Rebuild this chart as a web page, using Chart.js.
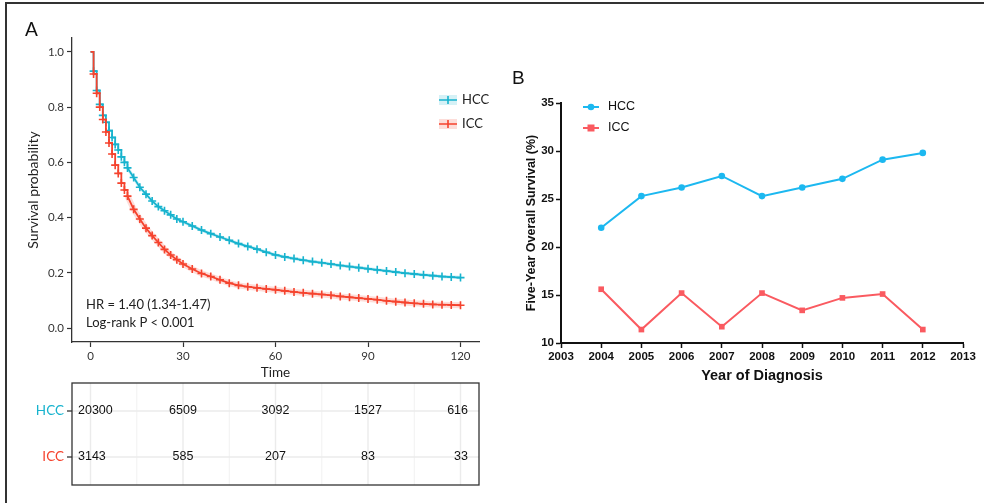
<!DOCTYPE html>
<html>
<head>
<meta charset="utf-8">
<script src="https://cdn.jsdelivr.net/npm/chart.js@4.4.1/dist/chart.umd.min.js"></script>
<style>
  html, body { margin: 0; padding: 0; background: #fff; }
  #wrap { position: relative; width: 984px; height: 503px; overflow: hidden; }
  #frame { position: absolute; left: 5px; top: 2px; width: 1000px; height: 540px;
           border-left: 2px solid #333; border-top: 2px solid #333; }
  #boxA { position: absolute; left: 0; top: 0; width: 490px; height: 503px; }
  #boxB { position: absolute; left: 490px; top: 0; width: 494px; height: 503px; }
</style>
</head>
<body>
<div id="wrap">
  <div id="frame"></div>
  <div id="boxA"><canvas id="kmChart"></canvas></div>
  <div id="boxB"><canvas id="trendChart"></canvas></div>
</div>
<script>
// ---- Panel A: Kaplan-Meier (months) ----
const kmTimes = [0, 1, 2, 3, 4, 5, 6, 7, 8, 9, 10, 11, 12,
  14, 16, 18, 20, 22, 24, 26, 28, 30,
  33, 36, 39, 42, 45, 48, 51, 54, 57, 60, 63, 66, 69, 72, 75, 78, 81, 84, 87, 90,
  93, 96, 99, 102, 105, 108, 111, 114, 117, 120];
const hccSurv = [1.0, 0.93, 0.86, 0.81, 0.77, 0.745, 0.715, 0.69, 0.665, 0.645, 0.62, 0.60, 0.58,
  0.545, 0.51, 0.485, 0.46, 0.44, 0.425, 0.41, 0.395, 0.385,
  0.37, 0.355, 0.342, 0.33, 0.318, 0.306, 0.296, 0.286, 0.275, 0.265,
  0.258, 0.252, 0.246, 0.241, 0.237, 0.232, 0.227, 0.223, 0.219, 0.215,
  0.211, 0.207, 0.203, 0.199, 0.196, 0.193, 0.19, 0.187, 0.185, 0.183];
const iccSurv = [1.0, 0.92, 0.85, 0.80, 0.755, 0.71, 0.67, 0.63, 0.59, 0.56, 0.525, 0.50, 0.478,
  0.43, 0.395, 0.362, 0.335, 0.31, 0.285, 0.265, 0.248, 0.232,
  0.214, 0.198, 0.187, 0.175, 0.163, 0.155, 0.15, 0.146, 0.142, 0.139,
  0.135, 0.131, 0.128, 0.125, 0.122, 0.119, 0.115, 0.112, 0.109, 0.106,
  0.103, 0.099, 0.096, 0.093, 0.09, 0.088, 0.086, 0.085, 0.084, 0.083];
const stepUntil = 12; // monthly steps are visible up to here, beyond it the curve reads smooth
const timeTicks = [0, 30, 60, 90, 120];
const probTicks = [0, 0.2, 0.4, 0.6, 0.8, 1.0];
const riskGroups = ['HCC', 'ICC'];
const hccRisk = [20300, 6509, 3092, 1527, 616];
const iccRisk = [3143, 585, 207, 83, 33];

// ---- Panel B: five-year OS by year ----
const years = [2004, 2005, 2006, 2007, 2008, 2009, 2010, 2011, 2012];
const hccFive = [22.0, 25.3, 26.2, 27.4, 25.3, 26.2, 27.1, 29.1, 29.8];
const iccFive = [15.6, 11.4, 15.2, 11.7, 15.2, 13.4, 14.7, 15.1, 11.4];

const colors = {
  hccA: '#17B3CE', iccA: '#F5432E',
  hccBand: 'rgba(23,179,206,0.18)', iccBand: 'rgba(245,67,46,0.18)',
  hccB: '#1CB8F0', iccB: '#FA5A60',
  ink: '#222'
};

function pts(xs, ys) { return xs.map((x, i) => ({ x: x, y: ys[i] })); }

// text, legend and risk table for panel A
const kmExtras = {
  id: 'kmExtras',
  afterDraw(chart) {
    const ctx = chart.ctx;
    const xs = chart.scales.x;
    const area = chart.chartArea;
    ctx.save();
    ctx.fillStyle = '#111';
    ctx.textBaseline = 'middle';
    ctx.font = '19px Lato';
    ctx.textAlign = 'left';
    ctx.fillText('A', 25, 30);

    ctx.font = '13px Lato';
    ctx.fillStyle = colors.ink;
    ctx.fillText('HR = 1.40 (1.34-1.47)', 86, 305);
    ctx.fillText('Log-rank P < 0.001', 86, 323);
    ctx.textAlign = 'center';
    ctx.font = '13.5px Lato';
    ctx.fillText('Time', (area.left + area.right) / 2, 373);

    ctx.save();
    ctx.translate(33, (area.top + area.bottom) / 2);
    ctx.rotate(-Math.PI / 2);
    ctx.font = '14px Lato';
    ctx.fillText('Survival probability', 0, 0);
    ctx.restore();

    // legend
    const leg = [[colors.hccA, colors.hccBand, 'HCC', 100], [colors.iccA, colors.iccBand, 'ICC', 124]];
    leg.forEach(([c, b, label, y]) => {
      ctx.fillStyle = b;
      ctx.fillRect(439, y - 5, 18, 10);
      ctx.strokeStyle = c;
      ctx.lineWidth = 1.6;
      ctx.beginPath();
      ctx.moveTo(439, y); ctx.lineTo(457, y);
      ctx.moveTo(448, y - 4); ctx.lineTo(448, y + 4);
      ctx.stroke();
      ctx.fillStyle = colors.ink;
      ctx.textAlign = 'left';
      ctx.font = '13px Lato';
      ctx.fillText(label, 462, y);
    });

    // risk table
    const top = 383, bot = 485, rowY = [411, 457];
    ctx.strokeStyle = '#ebebeb';
    [15, 45, 75, 105].forEach(t => {
      ctx.lineWidth = 0.7;
      const x = xs.getPixelForValue(t);
      ctx.beginPath(); ctx.moveTo(x, top); ctx.lineTo(x, bot); ctx.stroke();
    });
    ctx.lineWidth = 1.4;
    timeTicks.forEach(t => {
      const x = xs.getPixelForValue(t);
      ctx.beginPath(); ctx.moveTo(x, top); ctx.lineTo(x, bot); ctx.stroke();
    });
    rowY.forEach(y => {
      ctx.beginPath(); ctx.moveTo(area.left, y); ctx.lineTo(area.right, y); ctx.stroke();
    });
    ctx.strokeStyle = '#333';
    ctx.lineWidth = 1.3;
    ctx.strokeRect(area.left, top, area.right - area.left, bot - top);
    ctx.font = '12.5px "Liberation Sans", Arial';
    ctx.fillStyle = '#111';
    const last = timeTicks.length - 1;
    [hccRisk, iccRisk].forEach((row, r) => {
      row.forEach((n, i) => {
        // first and last columns are pulled inside the table box
        let x = xs.getPixelForValue(timeTicks[i]);
        if (i === 0) { ctx.textAlign = 'left'; x = area.left + 6; }
        else if (i === last) { ctx.textAlign = 'right'; x = area.right - 11; }
        else ctx.textAlign = 'center';
        ctx.fillText(String(n), x, rowY[r]);
      });
    });
    ctx.font = '13.5px Lato';
    ctx.textAlign = 'right';
    riskGroups.forEach((g, r) => {
      ctx.fillStyle = r === 0 ? colors.hccA : colors.iccA;
      ctx.fillText(g, 64, rowY[r]);
      ctx.strokeStyle = '#333';
      ctx.beginPath(); ctx.moveTo(67, rowY[r]); ctx.lineTo(area.left, rowY[r]); ctx.stroke();
    });
    ctx.restore();
  }
};

const kmLine = (data, color, stepped) => ({
  data: data,
  stepped: stepped ? 'before' : false,
  borderColor: color,
  borderWidth: 1.8,
  pointStyle: 'cross',
  pointRadius: c => (c.dataIndex === 0 ? 0 : 4),
  pointBorderWidth: 1.6,
  pointBorderColor: color,
  fill: false
});
const kmBand = (data, color, w) => ({
  data: data,
  borderColor: color,
  borderWidth: w,
  pointRadius: 0,
  fill: false
});

const hccPts = pts(kmTimes, hccSurv);
const iccPts = pts(kmTimes, iccSurv);
const cut = kmTimes.indexOf(stepUntil);

new Chart(document.getElementById('kmChart'), {
  type: 'line',
  data: {
    datasets: [
      kmLine(iccPts.slice(0, cut + 1), colors.iccA, true),
      kmLine(iccPts.slice(cut), colors.iccA, false),
      kmLine(hccPts.slice(0, cut + 1), colors.hccA, true),
      kmLine(hccPts.slice(cut), colors.hccA, false),
      kmBand(iccPts.slice(cut), colors.iccBand, 6),
      kmBand(hccPts.slice(cut), colors.hccBand, 3.5)
    ]
  },
  options: {
    responsive: true,
    maintainAspectRatio: false,
    animation: false,
    layout: { padding: { left: 30, right: 11, top: 38, bottom: 139 } },
    plugins: { legend: { display: false }, tooltip: { enabled: false } },
    scales: {
      x: {
        type: 'linear', min: -6, max: 126,
        afterBuildTicks: s => { s.ticks = timeTicks.map(v => ({ value: v })); },
        afterFit: s => { s.height = 22; },
        border: { color: '#333', width: 1.3 },
        grid: { drawOnChartArea: false, tickLength: 5, color: '#333', tickWidth: 1.2 },
        ticks: { color: '#333', font: { family: 'Lato', size: 11.5 }, padding: 2, maxRotation: 0 }
      },
      y: {
        type: 'linear', min: -0.05, max: 1.05,
        afterBuildTicks: s => { s.ticks = probTicks.map(v => ({ value: v })); },
        afterFit: s => { s.width = 42; },
        border: { color: '#333', width: 1.3 },
        grid: { drawOnChartArea: false, tickLength: 5, color: '#333', tickWidth: 1.2 },
        ticks: { color: '#333', font: { family: 'Lato', size: 11.5 }, padding: 3,
                 callback: v => v.toFixed(1) }
      }
    }
  },
  plugins: [kmExtras]
});

// ---- Panel B ----
const trendExtras = {
  id: 'trendExtras',
  afterDraw(chart) {
    const ctx = chart.ctx;
    const area = chart.chartArea;
    ctx.save();
    ctx.textBaseline = 'middle';
    ctx.fillStyle = '#111';
    ctx.font = '19px "Liberation Sans", Arial';
    ctx.textAlign = 'left';
    ctx.fillText('B', 22, 79);

    ctx.font = 'bold 14.5px "Liberation Sans", Arial';
    ctx.textAlign = 'center';
    ctx.fillText('Year of Diagnosis', (area.left + area.right) / 2, 376);
    ctx.save();
    ctx.translate(42, (area.top + area.bottom) / 2);
    ctx.rotate(-Math.PI / 2);
    ctx.font = 'bold 12.5px "Liberation Sans", Arial';
    ctx.fillText('Five-Year Overall Survival (%)', 0, 0);
    ctx.restore();

    const leg = [[colors.hccB, 'circle', 'HCC', 107], [colors.iccB, 'rect', 'ICC', 128]];
    leg.forEach(([c, shape, label, y]) => {
      ctx.strokeStyle = c;
      ctx.fillStyle = c;
      ctx.lineWidth = 2;
      ctx.beginPath(); ctx.moveTo(93, y); ctx.lineTo(109, y); ctx.stroke();
      ctx.beginPath();
      if (shape === 'circle') ctx.arc(101, y, 3.3, 0, Math.PI * 2);
      else ctx.rect(97.5, y - 3.5, 7, 7);
      ctx.fill();
      ctx.fillStyle = '#111';
      ctx.font = '12.5px "Liberation Sans", Arial';
      ctx.textAlign = 'left';
      ctx.fillText(label, 118, y);
    });
    ctx.restore();
  }
};

new Chart(document.getElementById('trendChart'), {
  type: 'line',
  data: {
    datasets: [
      { data: pts(years, hccFive), borderColor: colors.hccB, backgroundColor: colors.hccB,
        borderWidth: 2, pointStyle: 'circle', pointRadius: 3.3, pointBorderWidth: 0 },
      { data: pts(years, iccFive), borderColor: colors.iccB, backgroundColor: colors.iccB,
        borderWidth: 2, pointStyle: 'rect', pointRadius: 4, pointBorderWidth: 0 }
    ]
  },
  options: {
    responsive: true,
    maintainAspectRatio: false,
    animation: false,
    layout: { padding: { left: 31, right: 21, top: 103, bottom: 140 } },
    plugins: { legend: { display: false }, tooltip: { enabled: false } },
    scales: {
      x: {
        type: 'linear', min: 2003, max: 2013,
        afterFit: s => { s.height = 20; },
        border: { color: '#111', width: 2 },
        grid: { drawOnChartArea: false, tickLength: 5, color: '#111', tickWidth: 1.5 },
        ticks: { stepSize: 1, color: '#111', padding: 2, maxRotation: 0,
                 font: { family: '"Liberation Sans", Arial', size: 11.5, weight: 'bold' },
                 callback: v => String(v) }
      },
      y: {
        type: 'linear', min: 10, max: 35,
        afterFit: s => { s.width = 40; },
        border: { color: '#111', width: 2 },
        grid: { drawOnChartArea: false, tickLength: 5, color: '#111', tickWidth: 1.5 },
        ticks: { stepSize: 5, color: '#111', padding: 2,
                 font: { family: '"Liberation Sans", Arial', size: 11.5, weight: 'bold' } }
      }
    }
  },
  plugins: [trendExtras]
});
</script>
</body>
</html>
